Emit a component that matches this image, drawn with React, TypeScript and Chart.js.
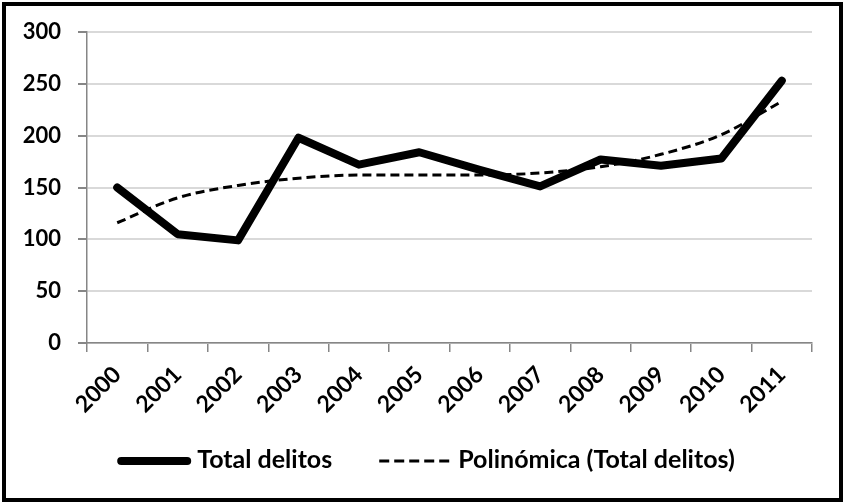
import React, { useEffect, useRef } from "react";
import { Chart, registerables } from "chart.js";

Chart.register(...registerables);

const years = ["2000", "2001", "2002", "2003", "2004", "2005", "2006", "2007", "2008", "2009", "2010", "2011"];
const totalDelitos = [150, 105, 99, 198, 172, 184, 167, 151, 177, 171, 178, 253];
const polinomica = [116, 140, 152, 159, 162, 162, 162, 164, 170, 182, 201, 233];
const seriesNames = ["Total delitos", "Polinómica (Total delitos)"];
const yMin = 0;
const yMax = 300;
const yStep = 50;

const FONT = "Lato";

const framePlugin = {
  id: "frameAndLegend",
  afterDraw(chart: any) {
    const ctx = chart.ctx;
    ctx.save();
    // outer frame
    ctx.strokeStyle = "#000";
    ctx.lineWidth = 4;
    ctx.strokeRect(4, 4, chart.width - 7, chart.height - 8);

    // legend
    ctx.font = `bold 25px ${FONT}`;
    ctx.textBaseline = "middle";
    ctx.fillStyle = "#000";
    const w1 = ctx.measureText(seriesNames[0]).width;
    const w2 = ctx.measureText(seriesNames[1]).width;
    const line1 = 74, gap1 = 6, between = 47, line2 = 70, gap2 = 9;
    const total = line1 + gap1 + w1 + between + line2 + gap2 + w2;
    let x = chart.width / 2 + 4 - total / 2;
    const y = 460;
    ctx.strokeStyle = "#000";
    ctx.lineWidth = 8;
    ctx.lineCap = "round";
    ctx.beginPath();
    ctx.moveTo(x + 4, y + 1);
    ctx.lineTo(x + line1 - 4, y + 1);
    ctx.stroke();
    x += line1 + gap1;
    ctx.fillText(seriesNames[0], x, y);
    x += w1 + between;
    ctx.lineWidth = 3;
    ctx.lineCap = "butt";
    ctx.setLineDash([10, 5]);
    ctx.beginPath();
    ctx.moveTo(x, y + 1);
    ctx.lineTo(x + line2, y + 1);
    ctx.stroke();
    ctx.setLineDash([]);
    x += line2 + gap2;
    ctx.fillText(seriesNames[1], x, y);
    ctx.restore();
  },
};

export default function App() {
  const canvasRef = useRef<HTMLCanvasElement | null>(null);

  useEffect(() => {
    document.body.style.margin = "0";
    const canvas = canvasRef.current;
    if (!canvas) return;
    const chart = new Chart(canvas, {
      type: "line",
      data: {
        labels: years,
        datasets: [
          {
            label: seriesNames[0],
            data: totalDelitos,
            borderColor: "#000",
            backgroundColor: "#000",
            borderWidth: 8,
            pointRadius: 0,
            tension: 0,
            borderCapStyle: "round",
            borderJoinStyle: "round",
            fill: false,
          },
          {
            label: seriesNames[1],
            data: polinomica,
            borderColor: "#000",
            backgroundColor: "#000",
            borderWidth: 3,
            borderDash: [9, 5],
            pointRadius: 0,
            cubicInterpolationMode: "monotone",
            fill: false,
          },
        ],
      },
      options: {
        responsive: false,
        animation: false,
        devicePixelRatio: 1,
        layout: { padding: { top: 32, right: 32, left: 0, bottom: 0 } },
        plugins: {
          legend: { display: false },
          tooltip: { enabled: false },
        },
        scales: {
          x: {
            offset: true,
            grid: {
              offset: true,
              drawOnChartArea: false,
              drawTicks: true,
              tickLength: 9,
              color: "#868686",
              lineWidth: 1.5,
            },
            border: { color: "#868686", width: 1.5 },
            ticks: {
              autoSkip: false,
              maxRotation: 45,
              minRotation: 45,
              color: "#000",
              padding: 9,
              font: { family: FONT, weight: "bold", size: 23 },
            },
            afterFit: (s: any) => {
              s.height = 161;
            },
          },
          y: {
            min: yMin,
            max: yMax,
            ticks: {
              stepSize: yStep,
              color: "#000",
              padding: 17,
              font: { family: FONT, weight: "bold", size: 22 },
            },
            grid: {
              color: "#d9d9d9",
              lineWidth: 2,
              tickColor: "#868686",
              tickLength: 9,
            },
            border: { color: "#868686", width: 1.5 },
            afterFit: (s: any) => {
              s.width = 87;
            },
          },
        },
      } as any,
      plugins: [framePlugin],
    });
    return () => chart.destroy();
  }, []);

  return (
    <div style={{ width: 844, height: 504, background: "#fff" }}>
      <canvas ref={canvasRef} width={844} height={504} style={{ display: "block" }} />
    </div>
  );
}
